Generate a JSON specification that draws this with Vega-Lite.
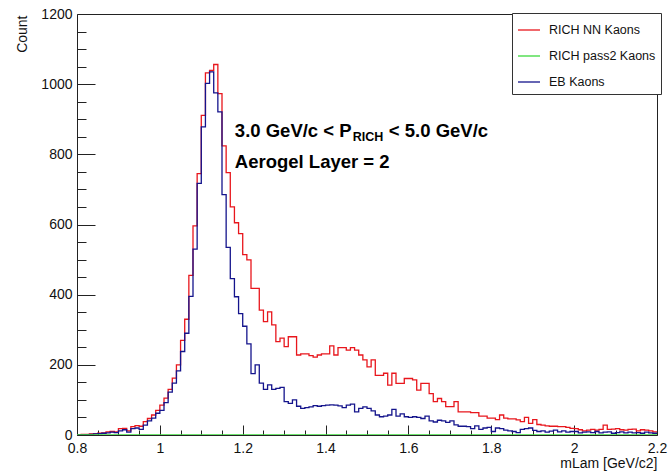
{
  "$schema": "https://vega.github.io/schema/vega-lite/v6.json",
  "width": 580,
  "height": 421,
  "autosize": "none",
  "padding": {"left": 77, "top": 14, "right": 12, "bottom": 38},
  "background": "white",
  "config": {
    "view": {"stroke": "#222222", "strokeWidth": 1},
    "font": "Liberation Sans",
    "axis": {"labelFont": "Liberation Sans", "titleFont": "Liberation Sans", "labelColor": "#111111", "titleColor": "#111111", "tickColor": "#222222", "grid": false, "domain": false}
  },
  "datasets": {
    "hist": [
      {"series":"RICH NN Kaons","mlam":0.80,"count":1},{"series":"RICH NN Kaons","mlam":0.81,"count":2},{"series":"RICH NN Kaons","mlam":0.82,"count":2},{"series":"RICH NN Kaons","mlam":0.83,"count":3},{"series":"RICH NN Kaons","mlam":0.84,"count":4},{"series":"RICH NN Kaons","mlam":0.85,"count":5},{"series":"RICH NN Kaons","mlam":0.86,"count":6},{"series":"RICH NN Kaons","mlam":0.87,"count":9},{"series":"RICH NN Kaons","mlam":0.88,"count":10},{"series":"RICH NN Kaons","mlam":0.89,"count":9},
      {"series":"RICH NN Kaons","mlam":0.90,"count":18},{"series":"RICH NN Kaons","mlam":0.91,"count":19},{"series":"RICH NN Kaons","mlam":0.92,"count":12},{"series":"RICH NN Kaons","mlam":0.93,"count":24},{"series":"RICH NN Kaons","mlam":0.94,"count":27},{"series":"RICH NN Kaons","mlam":0.95,"count":25},{"series":"RICH NN Kaons","mlam":0.96,"count":38},{"series":"RICH NN Kaons","mlam":0.97,"count":47},{"series":"RICH NN Kaons","mlam":0.98,"count":57},{"series":"RICH NN Kaons","mlam":0.99,"count":70},
      {"series":"RICH NN Kaons","mlam":1.00,"count":85},{"series":"RICH NN Kaons","mlam":1.01,"count":105},{"series":"RICH NN Kaons","mlam":1.02,"count":130},{"series":"RICH NN Kaons","mlam":1.03,"count":162},{"series":"RICH NN Kaons","mlam":1.04,"count":200},{"series":"RICH NN Kaons","mlam":1.05,"count":270},{"series":"RICH NN Kaons","mlam":1.06,"count":330},{"series":"RICH NN Kaons","mlam":1.07,"count":455},{"series":"RICH NN Kaons","mlam":1.08,"count":596},{"series":"RICH NN Kaons","mlam":1.09,"count":745},
      {"series":"RICH NN Kaons","mlam":1.10,"count":911},{"series":"RICH NN Kaons","mlam":1.11,"count":1032},{"series":"RICH NN Kaons","mlam":1.12,"count":1039},{"series":"RICH NN Kaons","mlam":1.13,"count":1056},{"series":"RICH NN Kaons","mlam":1.14,"count":973},{"series":"RICH NN Kaons","mlam":1.15,"count":824},{"series":"RICH NN Kaons","mlam":1.16,"count":748},{"series":"RICH NN Kaons","mlam":1.17,"count":650},{"series":"RICH NN Kaons","mlam":1.18,"count":605},{"series":"RICH NN Kaons","mlam":1.19,"count":574},
      {"series":"RICH NN Kaons","mlam":1.20,"count":514},{"series":"RICH NN Kaons","mlam":1.21,"count":499},{"series":"RICH NN Kaons","mlam":1.22,"count":418},{"series":"RICH NN Kaons","mlam":1.23,"count":418},{"series":"RICH NN Kaons","mlam":1.24,"count":356},{"series":"RICH NN Kaons","mlam":1.25,"count":323},{"series":"RICH NN Kaons","mlam":1.26,"count":351},{"series":"RICH NN Kaons","mlam":1.27,"count":314},{"series":"RICH NN Kaons","mlam":1.28,"count":266},{"series":"RICH NN Kaons","mlam":1.29,"count":276},
      {"series":"RICH NN Kaons","mlam":1.30,"count":252},{"series":"RICH NN Kaons","mlam":1.31,"count":280},{"series":"RICH NN Kaons","mlam":1.32,"count":280},{"series":"RICH NN Kaons","mlam":1.33,"count":228},{"series":"RICH NN Kaons","mlam":1.34,"count":231},{"series":"RICH NN Kaons","mlam":1.35,"count":231},{"series":"RICH NN Kaons","mlam":1.36,"count":226},{"series":"RICH NN Kaons","mlam":1.37,"count":222},{"series":"RICH NN Kaons","mlam":1.38,"count":228},{"series":"RICH NN Kaons","mlam":1.39,"count":231},
      {"series":"RICH NN Kaons","mlam":1.40,"count":231},{"series":"RICH NN Kaons","mlam":1.41,"count":254},{"series":"RICH NN Kaons","mlam":1.42,"count":228},{"series":"RICH NN Kaons","mlam":1.43,"count":249},{"series":"RICH NN Kaons","mlam":1.44,"count":249},{"series":"RICH NN Kaons","mlam":1.45,"count":242},{"series":"RICH NN Kaons","mlam":1.46,"count":249},{"series":"RICH NN Kaons","mlam":1.47,"count":242},{"series":"RICH NN Kaons","mlam":1.48,"count":228},{"series":"RICH NN Kaons","mlam":1.49,"count":214},
      {"series":"RICH NN Kaons","mlam":1.50,"count":194},{"series":"RICH NN Kaons","mlam":1.51,"count":214},{"series":"RICH NN Kaons","mlam":1.52,"count":170},{"series":"RICH NN Kaons","mlam":1.53,"count":170},{"series":"RICH NN Kaons","mlam":1.54,"count":176},{"series":"RICH NN Kaons","mlam":1.55,"count":142},{"series":"RICH NN Kaons","mlam":1.56,"count":176},{"series":"RICH NN Kaons","mlam":1.57,"count":147},{"series":"RICH NN Kaons","mlam":1.58,"count":147},{"series":"RICH NN Kaons","mlam":1.59,"count":161},
      {"series":"RICH NN Kaons","mlam":1.60,"count":161},{"series":"RICH NN Kaons","mlam":1.61,"count":157},{"series":"RICH NN Kaons","mlam":1.62,"count":128},{"series":"RICH NN Kaons","mlam":1.63,"count":147},{"series":"RICH NN Kaons","mlam":1.64,"count":147},{"series":"RICH NN Kaons","mlam":1.65,"count":118},{"series":"RICH NN Kaons","mlam":1.66,"count":95},{"series":"RICH NN Kaons","mlam":1.67,"count":104},{"series":"RICH NN Kaons","mlam":1.68,"count":95},{"series":"RICH NN Kaons","mlam":1.69,"count":81},
      {"series":"RICH NN Kaons","mlam":1.70,"count":81},{"series":"RICH NN Kaons","mlam":1.71,"count":95},{"series":"RICH NN Kaons","mlam":1.72,"count":66},{"series":"RICH NN Kaons","mlam":1.73,"count":66},{"series":"RICH NN Kaons","mlam":1.74,"count":66},{"series":"RICH NN Kaons","mlam":1.75,"count":64},{"series":"RICH NN Kaons","mlam":1.76,"count":64},{"series":"RICH NN Kaons","mlam":1.77,"count":54},{"series":"RICH NN Kaons","mlam":1.78,"count":54},{"series":"RICH NN Kaons","mlam":1.79,"count":48},
      {"series":"RICH NN Kaons","mlam":1.80,"count":48},{"series":"RICH NN Kaons","mlam":1.81,"count":44},{"series":"RICH NN Kaons","mlam":1.82,"count":57},{"series":"RICH NN Kaons","mlam":1.83,"count":48},{"series":"RICH NN Kaons","mlam":1.84,"count":46},{"series":"RICH NN Kaons","mlam":1.85,"count":46},{"series":"RICH NN Kaons","mlam":1.86,"count":43},{"series":"RICH NN Kaons","mlam":1.87,"count":38},{"series":"RICH NN Kaons","mlam":1.88,"count":50},{"series":"RICH NN Kaons","mlam":1.89,"count":33},
      {"series":"RICH NN Kaons","mlam":1.90,"count":44},{"series":"RICH NN Kaons","mlam":1.91,"count":30},{"series":"RICH NN Kaons","mlam":1.92,"count":28},{"series":"RICH NN Kaons","mlam":1.93,"count":26},{"series":"RICH NN Kaons","mlam":1.94,"count":25},{"series":"RICH NN Kaons","mlam":1.95,"count":25},{"series":"RICH NN Kaons","mlam":1.96,"count":24},{"series":"RICH NN Kaons","mlam":1.97,"count":24},{"series":"RICH NN Kaons","mlam":1.98,"count":22},{"series":"RICH NN Kaons","mlam":1.99,"count":19},
      {"series":"RICH NN Kaons","mlam":2.00,"count":18},{"series":"RICH NN Kaons","mlam":2.01,"count":15},{"series":"RICH NN Kaons","mlam":2.02,"count":12},{"series":"RICH NN Kaons","mlam":2.03,"count":14},{"series":"RICH NN Kaons","mlam":2.04,"count":16},{"series":"RICH NN Kaons","mlam":2.05,"count":14},{"series":"RICH NN Kaons","mlam":2.06,"count":16},{"series":"RICH NN Kaons","mlam":2.07,"count":28},{"series":"RICH NN Kaons","mlam":2.08,"count":16},{"series":"RICH NN Kaons","mlam":2.09,"count":17},
      {"series":"RICH NN Kaons","mlam":2.10,"count":18},{"series":"RICH NN Kaons","mlam":2.11,"count":15},{"series":"RICH NN Kaons","mlam":2.12,"count":14},{"series":"RICH NN Kaons","mlam":2.13,"count":16},{"series":"RICH NN Kaons","mlam":2.14,"count":17},{"series":"RICH NN Kaons","mlam":2.15,"count":12},{"series":"RICH NN Kaons","mlam":2.16,"count":15},{"series":"RICH NN Kaons","mlam":2.17,"count":14},{"series":"RICH NN Kaons","mlam":2.18,"count":12},{"series":"RICH NN Kaons","mlam":2.19,"count":9},{"series":"RICH NN Kaons","mlam":2.20,"count":9},

      {"series":"EB Kaons","mlam":0.80,"count":0},{"series":"EB Kaons","mlam":0.81,"count":0},{"series":"EB Kaons","mlam":0.82,"count":1},{"series":"EB Kaons","mlam":0.83,"count":2},{"series":"EB Kaons","mlam":0.84,"count":3},{"series":"EB Kaons","mlam":0.85,"count":4},{"series":"EB Kaons","mlam":0.86,"count":5},{"series":"EB Kaons","mlam":0.87,"count":6},{"series":"EB Kaons","mlam":0.88,"count":8},{"series":"EB Kaons","mlam":0.89,"count":7},
      {"series":"EB Kaons","mlam":0.90,"count":12},{"series":"EB Kaons","mlam":0.91,"count":15},{"series":"EB Kaons","mlam":0.92,"count":8},{"series":"EB Kaons","mlam":0.93,"count":18},{"series":"EB Kaons","mlam":0.94,"count":20},{"series":"EB Kaons","mlam":0.95,"count":16},{"series":"EB Kaons","mlam":0.96,"count":28},{"series":"EB Kaons","mlam":0.97,"count":40},{"series":"EB Kaons","mlam":0.98,"count":48},{"series":"EB Kaons","mlam":0.99,"count":62},
      {"series":"EB Kaons","mlam":1.00,"count":70},{"series":"EB Kaons","mlam":1.01,"count":92},{"series":"EB Kaons","mlam":1.02,"count":122},{"series":"EB Kaons","mlam":1.03,"count":148},{"series":"EB Kaons","mlam":1.04,"count":183},{"series":"EB Kaons","mlam":1.05,"count":238},{"series":"EB Kaons","mlam":1.06,"count":290},{"series":"EB Kaons","mlam":1.07,"count":395},{"series":"EB Kaons","mlam":1.08,"count":530},{"series":"EB Kaons","mlam":1.09,"count":717},
      {"series":"EB Kaons","mlam":1.10,"count":878},{"series":"EB Kaons","mlam":1.11,"count":1002},{"series":"EB Kaons","mlam":1.12,"count":1035},{"series":"EB Kaons","mlam":1.13,"count":975},{"series":"EB Kaons","mlam":1.14,"count":921},{"series":"EB Kaons","mlam":1.15,"count":685},{"series":"EB Kaons","mlam":1.16,"count":535},{"series":"EB Kaons","mlam":1.17,"count":446},{"series":"EB Kaons","mlam":1.18,"count":394},{"series":"EB Kaons","mlam":1.19,"count":346},
      {"series":"EB Kaons","mlam":1.20,"count":310},{"series":"EB Kaons","mlam":1.21,"count":260},{"series":"EB Kaons","mlam":1.22,"count":175},{"series":"EB Kaons","mlam":1.23,"count":200},{"series":"EB Kaons","mlam":1.24,"count":148},{"series":"EB Kaons","mlam":1.25,"count":130},{"series":"EB Kaons","mlam":1.26,"count":143},{"series":"EB Kaons","mlam":1.27,"count":130},{"series":"EB Kaons","mlam":1.28,"count":133},{"series":"EB Kaons","mlam":1.29,"count":136},
      {"series":"EB Kaons","mlam":1.30,"count":95},{"series":"EB Kaons","mlam":1.31,"count":90},{"series":"EB Kaons","mlam":1.32,"count":100},{"series":"EB Kaons","mlam":1.33,"count":82},{"series":"EB Kaons","mlam":1.34,"count":76},{"series":"EB Kaons","mlam":1.35,"count":78},{"series":"EB Kaons","mlam":1.36,"count":80},{"series":"EB Kaons","mlam":1.37,"count":84},{"series":"EB Kaons","mlam":1.38,"count":82},{"series":"EB Kaons","mlam":1.39,"count":84},
      {"series":"EB Kaons","mlam":1.40,"count":85},{"series":"EB Kaons","mlam":1.41,"count":86},{"series":"EB Kaons","mlam":1.42,"count":85},{"series":"EB Kaons","mlam":1.43,"count":83},{"series":"EB Kaons","mlam":1.44,"count":78},{"series":"EB Kaons","mlam":1.45,"count":85},{"series":"EB Kaons","mlam":1.46,"count":88},{"series":"EB Kaons","mlam":1.47,"count":66},{"series":"EB Kaons","mlam":1.48,"count":76},{"series":"EB Kaons","mlam":1.49,"count":80},
      {"series":"EB Kaons","mlam":1.50,"count":76},{"series":"EB Kaons","mlam":1.51,"count":69},{"series":"EB Kaons","mlam":1.52,"count":57},{"series":"EB Kaons","mlam":1.53,"count":52},{"series":"EB Kaons","mlam":1.54,"count":54},{"series":"EB Kaons","mlam":1.55,"count":57},{"series":"EB Kaons","mlam":1.56,"count":73},{"series":"EB Kaons","mlam":1.57,"count":54},{"series":"EB Kaons","mlam":1.58,"count":60},{"series":"EB Kaons","mlam":1.59,"count":52},
      {"series":"EB Kaons","mlam":1.60,"count":50},{"series":"EB Kaons","mlam":1.61,"count":52},{"series":"EB Kaons","mlam":1.62,"count":50},{"series":"EB Kaons","mlam":1.63,"count":47},{"series":"EB Kaons","mlam":1.64,"count":54},{"series":"EB Kaons","mlam":1.65,"count":40},{"series":"EB Kaons","mlam":1.66,"count":37},{"series":"EB Kaons","mlam":1.67,"count":42},{"series":"EB Kaons","mlam":1.68,"count":40},{"series":"EB Kaons","mlam":1.69,"count":36},
      {"series":"EB Kaons","mlam":1.70,"count":40},{"series":"EB Kaons","mlam":1.71,"count":29},{"series":"EB Kaons","mlam":1.72,"count":25},{"series":"EB Kaons","mlam":1.73,"count":25},{"series":"EB Kaons","mlam":1.74,"count":24},{"series":"EB Kaons","mlam":1.75,"count":18},{"series":"EB Kaons","mlam":1.76,"count":26},{"series":"EB Kaons","mlam":1.77,"count":16},{"series":"EB Kaons","mlam":1.78,"count":20},{"series":"EB Kaons","mlam":1.79,"count":22},
      {"series":"EB Kaons","mlam":1.80,"count":10},{"series":"EB Kaons","mlam":1.81,"count":20},{"series":"EB Kaons","mlam":1.82,"count":18},{"series":"EB Kaons","mlam":1.83,"count":14},{"series":"EB Kaons","mlam":1.84,"count":12},{"series":"EB Kaons","mlam":1.85,"count":10},{"series":"EB Kaons","mlam":1.86,"count":7},{"series":"EB Kaons","mlam":1.87,"count":16},{"series":"EB Kaons","mlam":1.88,"count":18},{"series":"EB Kaons","mlam":1.89,"count":20},
      {"series":"EB Kaons","mlam":1.90,"count":13},{"series":"EB Kaons","mlam":1.91,"count":10},{"series":"EB Kaons","mlam":1.92,"count":12},{"series":"EB Kaons","mlam":1.93,"count":8},{"series":"EB Kaons","mlam":1.94,"count":11},{"series":"EB Kaons","mlam":1.95,"count":14},{"series":"EB Kaons","mlam":1.96,"count":9},{"series":"EB Kaons","mlam":1.97,"count":12},{"series":"EB Kaons","mlam":1.98,"count":8},{"series":"EB Kaons","mlam":1.99,"count":10},
      {"series":"EB Kaons","mlam":2.00,"count":10},{"series":"EB Kaons","mlam":2.01,"count":6},{"series":"EB Kaons","mlam":2.02,"count":8},{"series":"EB Kaons","mlam":2.03,"count":9},{"series":"EB Kaons","mlam":2.04,"count":7},{"series":"EB Kaons","mlam":2.05,"count":10},{"series":"EB Kaons","mlam":2.06,"count":6},{"series":"EB Kaons","mlam":2.07,"count":8},{"series":"EB Kaons","mlam":2.08,"count":9},{"series":"EB Kaons","mlam":2.09,"count":5},
      {"series":"EB Kaons","mlam":2.10,"count":7},{"series":"EB Kaons","mlam":2.11,"count":9},{"series":"EB Kaons","mlam":2.12,"count":6},{"series":"EB Kaons","mlam":2.13,"count":8},{"series":"EB Kaons","mlam":2.14,"count":6},{"series":"EB Kaons","mlam":2.15,"count":7},{"series":"EB Kaons","mlam":2.16,"count":5},{"series":"EB Kaons","mlam":2.17,"count":8},{"series":"EB Kaons","mlam":2.18,"count":6},{"series":"EB Kaons","mlam":2.19,"count":5},{"series":"EB Kaons","mlam":2.20,"count":5},

      {"series":"RICH pass2 Kaons","mlam":0.80,"count":0},{"series":"RICH pass2 Kaons","mlam":0.81,"count":0},{"series":"RICH pass2 Kaons","mlam":0.82,"count":0},{"series":"RICH pass2 Kaons","mlam":0.83,"count":0},{"series":"RICH pass2 Kaons","mlam":0.84,"count":0},{"series":"RICH pass2 Kaons","mlam":0.85,"count":0},{"series":"RICH pass2 Kaons","mlam":0.86,"count":0},{"series":"RICH pass2 Kaons","mlam":0.87,"count":0},{"series":"RICH pass2 Kaons","mlam":0.88,"count":0},{"series":"RICH pass2 Kaons","mlam":0.89,"count":0},
      {"series":"RICH pass2 Kaons","mlam":0.90,"count":0},{"series":"RICH pass2 Kaons","mlam":0.91,"count":0},{"series":"RICH pass2 Kaons","mlam":0.92,"count":0},{"series":"RICH pass2 Kaons","mlam":0.93,"count":0},{"series":"RICH pass2 Kaons","mlam":0.94,"count":0},{"series":"RICH pass2 Kaons","mlam":0.95,"count":0},{"series":"RICH pass2 Kaons","mlam":0.96,"count":0},{"series":"RICH pass2 Kaons","mlam":0.97,"count":0},{"series":"RICH pass2 Kaons","mlam":0.98,"count":0},{"series":"RICH pass2 Kaons","mlam":0.99,"count":0},
      {"series":"RICH pass2 Kaons","mlam":1.00,"count":0},{"series":"RICH pass2 Kaons","mlam":1.01,"count":0},{"series":"RICH pass2 Kaons","mlam":1.02,"count":0},{"series":"RICH pass2 Kaons","mlam":1.03,"count":0},{"series":"RICH pass2 Kaons","mlam":1.04,"count":0},{"series":"RICH pass2 Kaons","mlam":1.05,"count":0},{"series":"RICH pass2 Kaons","mlam":1.06,"count":0},{"series":"RICH pass2 Kaons","mlam":1.07,"count":0},{"series":"RICH pass2 Kaons","mlam":1.08,"count":0},{"series":"RICH pass2 Kaons","mlam":1.09,"count":0},
      {"series":"RICH pass2 Kaons","mlam":1.10,"count":0},{"series":"RICH pass2 Kaons","mlam":1.11,"count":0},{"series":"RICH pass2 Kaons","mlam":1.12,"count":0},{"series":"RICH pass2 Kaons","mlam":1.13,"count":0},{"series":"RICH pass2 Kaons","mlam":1.14,"count":0},{"series":"RICH pass2 Kaons","mlam":1.15,"count":0},{"series":"RICH pass2 Kaons","mlam":1.16,"count":0},{"series":"RICH pass2 Kaons","mlam":1.17,"count":0},{"series":"RICH pass2 Kaons","mlam":1.18,"count":0},{"series":"RICH pass2 Kaons","mlam":1.19,"count":0},
      {"series":"RICH pass2 Kaons","mlam":1.20,"count":0},{"series":"RICH pass2 Kaons","mlam":1.21,"count":0},{"series":"RICH pass2 Kaons","mlam":1.22,"count":0},{"series":"RICH pass2 Kaons","mlam":1.23,"count":0},{"series":"RICH pass2 Kaons","mlam":1.24,"count":0},{"series":"RICH pass2 Kaons","mlam":1.25,"count":0},{"series":"RICH pass2 Kaons","mlam":1.26,"count":0},{"series":"RICH pass2 Kaons","mlam":1.27,"count":0},{"series":"RICH pass2 Kaons","mlam":1.28,"count":0},{"series":"RICH pass2 Kaons","mlam":1.29,"count":0},
      {"series":"RICH pass2 Kaons","mlam":1.30,"count":0},{"series":"RICH pass2 Kaons","mlam":1.31,"count":0},{"series":"RICH pass2 Kaons","mlam":1.32,"count":0},{"series":"RICH pass2 Kaons","mlam":1.33,"count":0},{"series":"RICH pass2 Kaons","mlam":1.34,"count":0},{"series":"RICH pass2 Kaons","mlam":1.35,"count":0},{"series":"RICH pass2 Kaons","mlam":1.36,"count":0},{"series":"RICH pass2 Kaons","mlam":1.37,"count":0},{"series":"RICH pass2 Kaons","mlam":1.38,"count":0},{"series":"RICH pass2 Kaons","mlam":1.39,"count":0},
      {"series":"RICH pass2 Kaons","mlam":1.40,"count":0},{"series":"RICH pass2 Kaons","mlam":1.41,"count":0},{"series":"RICH pass2 Kaons","mlam":1.42,"count":0},{"series":"RICH pass2 Kaons","mlam":1.43,"count":0},{"series":"RICH pass2 Kaons","mlam":1.44,"count":0},{"series":"RICH pass2 Kaons","mlam":1.45,"count":0},{"series":"RICH pass2 Kaons","mlam":1.46,"count":0},{"series":"RICH pass2 Kaons","mlam":1.47,"count":0},{"series":"RICH pass2 Kaons","mlam":1.48,"count":0},{"series":"RICH pass2 Kaons","mlam":1.49,"count":0},
      {"series":"RICH pass2 Kaons","mlam":1.50,"count":0},{"series":"RICH pass2 Kaons","mlam":1.51,"count":0},{"series":"RICH pass2 Kaons","mlam":1.52,"count":0},{"series":"RICH pass2 Kaons","mlam":1.53,"count":0},{"series":"RICH pass2 Kaons","mlam":1.54,"count":0},{"series":"RICH pass2 Kaons","mlam":1.55,"count":0},{"series":"RICH pass2 Kaons","mlam":1.56,"count":0},{"series":"RICH pass2 Kaons","mlam":1.57,"count":0},{"series":"RICH pass2 Kaons","mlam":1.58,"count":0},{"series":"RICH pass2 Kaons","mlam":1.59,"count":0},
      {"series":"RICH pass2 Kaons","mlam":1.60,"count":0},{"series":"RICH pass2 Kaons","mlam":1.61,"count":0},{"series":"RICH pass2 Kaons","mlam":1.62,"count":0},{"series":"RICH pass2 Kaons","mlam":1.63,"count":0},{"series":"RICH pass2 Kaons","mlam":1.64,"count":0},{"series":"RICH pass2 Kaons","mlam":1.65,"count":0},{"series":"RICH pass2 Kaons","mlam":1.66,"count":0},{"series":"RICH pass2 Kaons","mlam":1.67,"count":0},{"series":"RICH pass2 Kaons","mlam":1.68,"count":0},{"series":"RICH pass2 Kaons","mlam":1.69,"count":0},
      {"series":"RICH pass2 Kaons","mlam":1.70,"count":0},{"series":"RICH pass2 Kaons","mlam":1.71,"count":0},{"series":"RICH pass2 Kaons","mlam":1.72,"count":0},{"series":"RICH pass2 Kaons","mlam":1.73,"count":0},{"series":"RICH pass2 Kaons","mlam":1.74,"count":0},{"series":"RICH pass2 Kaons","mlam":1.75,"count":0},{"series":"RICH pass2 Kaons","mlam":1.76,"count":0},{"series":"RICH pass2 Kaons","mlam":1.77,"count":0},{"series":"RICH pass2 Kaons","mlam":1.78,"count":0},{"series":"RICH pass2 Kaons","mlam":1.79,"count":0},
      {"series":"RICH pass2 Kaons","mlam":1.80,"count":0},{"series":"RICH pass2 Kaons","mlam":1.81,"count":0},{"series":"RICH pass2 Kaons","mlam":1.82,"count":0},{"series":"RICH pass2 Kaons","mlam":1.83,"count":0},{"series":"RICH pass2 Kaons","mlam":1.84,"count":0},{"series":"RICH pass2 Kaons","mlam":1.85,"count":0},{"series":"RICH pass2 Kaons","mlam":1.86,"count":0},{"series":"RICH pass2 Kaons","mlam":1.87,"count":0},{"series":"RICH pass2 Kaons","mlam":1.88,"count":0},{"series":"RICH pass2 Kaons","mlam":1.89,"count":0},
      {"series":"RICH pass2 Kaons","mlam":1.90,"count":0},{"series":"RICH pass2 Kaons","mlam":1.91,"count":0},{"series":"RICH pass2 Kaons","mlam":1.92,"count":0},{"series":"RICH pass2 Kaons","mlam":1.93,"count":0},{"series":"RICH pass2 Kaons","mlam":1.94,"count":0},{"series":"RICH pass2 Kaons","mlam":1.95,"count":0},{"series":"RICH pass2 Kaons","mlam":1.96,"count":0},{"series":"RICH pass2 Kaons","mlam":1.97,"count":0},{"series":"RICH pass2 Kaons","mlam":1.98,"count":0},{"series":"RICH pass2 Kaons","mlam":1.99,"count":0},
      {"series":"RICH pass2 Kaons","mlam":2.00,"count":0},{"series":"RICH pass2 Kaons","mlam":2.01,"count":0},{"series":"RICH pass2 Kaons","mlam":2.02,"count":0},{"series":"RICH pass2 Kaons","mlam":2.03,"count":0},{"series":"RICH pass2 Kaons","mlam":2.04,"count":0},{"series":"RICH pass2 Kaons","mlam":2.05,"count":0},{"series":"RICH pass2 Kaons","mlam":2.06,"count":0},{"series":"RICH pass2 Kaons","mlam":2.07,"count":0},{"series":"RICH pass2 Kaons","mlam":2.08,"count":0},{"series":"RICH pass2 Kaons","mlam":2.09,"count":0},
      {"series":"RICH pass2 Kaons","mlam":2.10,"count":0},{"series":"RICH pass2 Kaons","mlam":2.11,"count":0},{"series":"RICH pass2 Kaons","mlam":2.12,"count":0},{"series":"RICH pass2 Kaons","mlam":2.13,"count":0},{"series":"RICH pass2 Kaons","mlam":2.14,"count":0},{"series":"RICH pass2 Kaons","mlam":2.15,"count":0},{"series":"RICH pass2 Kaons","mlam":2.16,"count":0},{"series":"RICH pass2 Kaons","mlam":2.17,"count":0},{"series":"RICH pass2 Kaons","mlam":2.18,"count":0},{"series":"RICH pass2 Kaons","mlam":2.19,"count":0},{"series":"RICH pass2 Kaons","mlam":2.20,"count":0}
    ]
  },
  "layer": [
    {
      "data": {"name": "hist"},
      "mark": {"type": "line", "interpolate": "step-after", "strokeWidth": 1.3, "clip": true},
      "encoding": {
        "x": {
          "field": "mlam", "type": "quantitative",
          "scale": {"domain": [0.8, 2.2], "nice": false, "zero": false},
          "axis": {
            "orient": "bottom",
            "values": [0.8, 1.0, 1.2, 1.4, 1.6, 1.8, 2.0, 2.2],
            "format": "~g",
            "tickSize": -10, "tickWidth": 1,
            "labelPadding": 16, "labelFontSize": 14, "labelFlush": false, "labelOverlap": false,
            "title": "mLam [GeV/c2]", "titleFontSize": 14, "titleFontWeight": "normal",
            "titleAnchor": "end", "titleAlign": "right", "titleBaseline": "alphabetic",
            "titleX": 580, "titleY": 32
          }
        },
        "y": {
          "field": "count", "type": "quantitative",
          "scale": {"domain": [0, 1200], "nice": false},
          "axis": {
            "orient": "left",
            "values": [0, 200, 400, 600, 800, 1000, 1200],
            "format": "d",
            "tickSize": -18, "tickWidth": 1,
            "labelPadding": 23, "labelFontSize": 14, "labelOverlap": false, "labelFlush": false,
            "title": "Count", "titleFontSize": 14, "titleFontWeight": "normal",
            "titleAngle": -90, "titleAlign": "right", "titleBaseline": "alphabetic",
            "titleX": -51, "titleY": 1
          }
        },
        "color": {
          "field": "series", "type": "nominal",
          "scale": {
            "domain": ["RICH NN Kaons", "RICH pass2 Kaons", "EB Kaons"],
            "range": ["#e8161c", "#3cd83c", "#14148c"]
          },
          "legend": {
            "orient": "none", "legendX": 435, "legendY": -1,
            "title": null,
            "strokeColor": "#333333", "fillColor": "white",
            "padding": 5,
            "symbolType": "stroke", "symbolSize": 484, "symbolStrokeWidth": 1.3,
            "labelFont": "Liberation Sans", "labelFontSize": 12.5, "labelColor": "#111111",
            "labelOffset": 8, "rowPadding": 7, "labelLimit": 200
          }
        }
      }
    },
    {
      "data": {"values": [{}]},
      "mark": {"type": "point", "opacity": 0},
      "encoding": {
        "x": {
          "datum": 0.8, "type": "quantitative",
          "axis": {
            "orient": "bottom",
            "values": [0.85, 0.9, 0.95, 1.05, 1.1, 1.15, 1.25, 1.3, 1.35, 1.45, 1.5, 1.55, 1.65, 1.7, 1.75, 1.85, 1.9, 1.95, 2.05, 2.1, 2.15],
            "tickSize": -5, "tickWidth": 1, "labels": false, "title": null, "domain": false
          }
        },
        "y": {
          "datum": 0, "type": "quantitative",
          "axis": {
            "orient": "left",
            "values": [50, 100, 150, 250, 300, 350, 450, 500, 550, 650, 700, 750, 850, 900, 950, 1050, 1100, 1150],
            "tickSize": -9, "tickWidth": 1, "labels": false, "title": null, "domain": false
          }
        }
      }
    },
    {
      "data": {"values": [{}]},
      "mark": {"type": "text", "align": "left", "baseline": "alphabetic", "font": "Liberation Sans", "fontWeight": "bold", "fontSize": 18.5, "color": "#000000"},
      "encoding": {
        "x": {"datum": 1.181, "type": "quantitative", "axis": null},
        "y": {"datum": 849, "type": "quantitative", "axis": null},
        "text": {"value": "3.0 GeV/c < P"}
      }
    },
    {
      "data": {"values": [{}]},
      "mark": {"type": "text", "align": "left", "baseline": "alphabetic", "font": "Liberation Sans", "fontWeight": "bold", "fontSize": 12.5, "color": "#000000", "dx": 118, "dy": 4},
      "encoding": {
        "x": {"datum": 1.181, "type": "quantitative", "axis": null},
        "y": {"datum": 849, "type": "quantitative", "axis": null},
        "text": {"value": "RICH"}
      }
    },
    {
      "data": {"values": [{}]},
      "mark": {"type": "text", "align": "left", "baseline": "alphabetic", "font": "Liberation Sans", "fontWeight": "bold", "fontSize": 18.5, "color": "#000000", "dx": 154},
      "encoding": {
        "x": {"datum": 1.181, "type": "quantitative", "axis": null},
        "y": {"datum": 849, "type": "quantitative", "axis": null},
        "text": {"value": "< 5.0 GeV/c"}
      }
    },
    {
      "data": {"values": [{}]},
      "mark": {"type": "text", "align": "left", "baseline": "alphabetic", "font": "Liberation Sans", "fontWeight": "bold", "fontSize": 18.5, "color": "#000000"},
      "encoding": {
        "x": {"datum": 1.181, "type": "quantitative", "axis": null},
        "y": {"datum": 761, "type": "quantitative", "axis": null},
        "text": {"value": "Aerogel Layer = 2"}
      }
    }
  ],
  "resolve": {"axis": {"x": "independent", "y": "independent"}}
}
